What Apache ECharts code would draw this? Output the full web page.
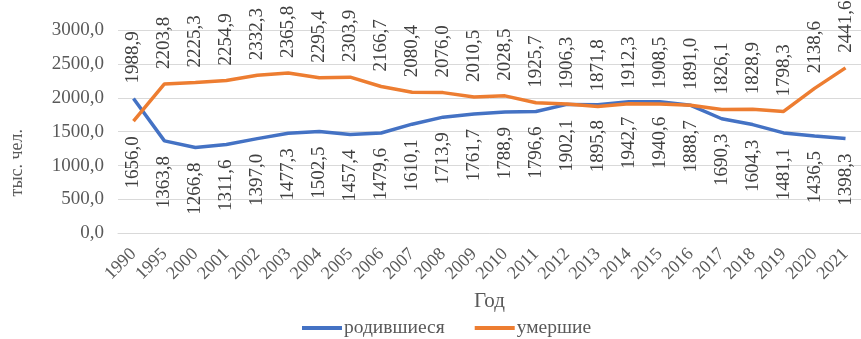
<!DOCTYPE html>
<html>
<head>
<meta charset="utf-8">
<script src="https://cdn.jsdelivr.net/npm/echarts@6/dist/echarts.min.js"></script>
<style>
  html, body { margin: 0; padding: 0; background: #fff; }
  #chart { width: 861px; height: 339px; }
</style>
</head>
<body>
<div id="chart"></div>
<script>
// Годы наблюдения
const years = ['1990', '1995', '2000', '2001', '2002', '2003', '2004', '2005', '2006', '2007', '2008', '2009',
  '2010', '2011', '2012', '2013', '2014', '2015', '2016', '2017', '2018', '2019', '2020', '2021'];

// Родившиеся, тыс. чел.
const births = [1988.9, 1363.8, 1266.8, 1311.6, 1397.0, 1477.3, 1502.5, 1457.4, 1479.6, 1610.1, 1713.9, 1761.7,
  1788.9, 1796.6, 1902.1, 1895.8, 1942.7, 1940.6, 1888.7, 1690.3, 1604.3, 1481.1, 1436.5, 1398.3];

// Умершие, тыс. чел.
const deaths = [1656.0, 2203.8, 2225.3, 2254.9, 2332.3, 2365.8, 2295.4, 2303.9, 2166.7, 2080.4, 2076.0, 2010.5,
  2028.5, 1925.7, 1906.3, 1871.8, 1912.3, 1908.5, 1891.0, 1826.1, 1828.9, 1798.3, 2138.6, 2441.6];

const fmt = v => v.toFixed(1).replace('.', ',');
const serif = '"Liberation Serif", "Times New Roman", serif';

// Вертикальная подпись: над точкой текст идёт вверх от неё, под точкой — вниз
function labelAt(pos) {
  return { position: pos, align: pos === 'top' ? 'left' : 'right', verticalAlign: 'middle' };
}

// Подписи: у родившихся — снизу, у умерших — сверху (в 1990 году наоборот)
function withLabels(values, pos, altPos) {
  return values.map((v, i) => ({
    value: v,
    label: labelAt(i === 0 ? altPos : pos)
  }));
}

function lineSeries(name, color, values, pos, altPos) {
  return {
    name: name,
    type: 'line',
    data: withLabels(values, pos, altPos),
    showSymbol: true,
    symbol: 'circle',
    symbolSize: 0.1,
    lineStyle: { color: color, width: 3.5 },
    itemStyle: { color: color },
    labelLayout: { hideOverlap: false },
    label: {
      show: true,
      rotate: 90,
      distance: 15,
      formatter: p => fmt(p.value),
      fontFamily: serif,
      fontSize: 19,
      color: '#404040'
    }
  };
}

const chart = echarts.init(document.getElementById('chart'));
chart.setOption({
  animation: false,
  textStyle: { fontFamily: serif },
  grid: { left: 112.6, top: 30, width: 754, height: 203.3 },
  legend: {
    bottom: -4,
    left: 297,
    itemWidth: 40,
    itemHeight: 4,
    itemGap: 30,
    icon: 'rect',
    textStyle: { fontFamily: serif, fontSize: 19.5, color: '#595959', padding: [0, 0, 0, -3] },
    data: ['родившиеся', 'умершие']
  },
  xAxis: {
    type: 'category',
    data: years,
    boundaryGap: true,
    name: 'Год',
    nameLocation: 'middle',
    nameGap: 58,
    nameTextStyle: { fontFamily: serif, fontSize: 21, color: '#595959' },
    axisLine: { lineStyle: { color: '#d9d9d9', width: 1 } },
    axisTick: { show: false },
    axisLabel: { interval: 0, rotate: 45, margin: 18, fontFamily: serif, fontSize: 18, color: '#595959' }
  },
  yAxis: {
    type: 'value',
    min: 0,
    max: 3000,
    interval: 500,
    name: 'тыс. чел.',
    nameLocation: 'middle',
    nameGap: 92,
    nameTextStyle: { fontFamily: serif, fontSize: 18, color: '#595959', padding: [0, 62, 0, 0] },
    axisLabel: { formatter: v => fmt(v), margin: 14, fontFamily: serif, fontSize: 19, color: '#595959' },
    splitLine: { lineStyle: { color: '#d9d9d9', width: 1 } }
  },
  series: [
    lineSeries('родившиеся', '#4472C4', births, 'bottom', 'top'),
    lineSeries('умершие', '#ED7D31', deaths, 'top', 'bottom')
  ]
});
</script>
</body>
</html>
